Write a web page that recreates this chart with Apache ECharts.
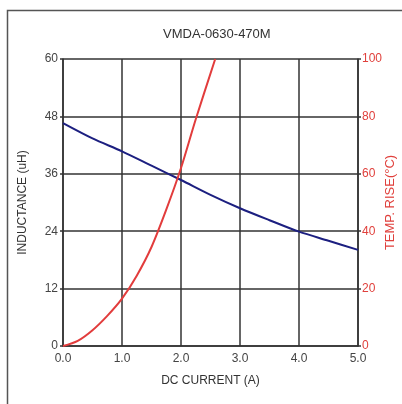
<!DOCTYPE html>
<html>
<head>
<meta charset="utf-8">
<script src="https://cdn.jsdelivr.net/npm/echarts@6/dist/echarts.min.js"></script>
<style>html,body{margin:0;padding:0;background:#fff}#c{width:402px;height:404px}</style>
</head>
<body>
<div id="c"></div>
<script>
var titleText = 'VMDA-0630-470M';
var inductanceX = [0, 0.5, 1, 1.5, 2, 2.5, 3, 3.5, 4, 4.5, 5];
var inductanceY = [46.6, 43.4, 40.7, 37.7, 34.7, 31.6, 28.8, 26.3, 23.9, 22.0, 20.1];
var tempX = [0, 0.25, 0.5, 0.75, 1.0, 1.25, 1.5, 1.75, 2.0, 2.25, 2.58];
var tempY = [0, 1.8, 5.5, 10.5, 16.5, 24.5, 34.5, 47.5, 62, 79, 100];

function pairs(xs, ys) { return xs.map(function (x, i) { return [x, ys[i]]; }); }

var font = 'Liberation Sans, Arial, sans-serif';
var chart = echarts.init(document.getElementById('c'), null, { renderer: 'canvas' });
chart.setOption({
  animation: false,
  backgroundColor: '#fff',
  title: {
    text: titleText, left: 158, top: 23,
    textStyle: { fontSize: 13, fontWeight: 'normal', color: '#333', fontFamily: font }
  },
  graphic: [{
    type: 'rect', shape: { x: 7.5, y: 10.5, width: 430, height: 430 },
    style: { fill: 'none', stroke: '#555', lineWidth: 1.5 }, silent: true
  }],
  grid: { left: 63, right: 44, top: 59, bottom: 58, containLabel: false, outerBoundsMode: 'none' },
  xAxis: {
    type: 'value', min: 0, max: 5, interval: 1,
    name: 'DC CURRENT (A)', nameLocation: 'middle', nameGap: 29,
    nameTextStyle: { fontSize: 12, color: '#333', fontFamily: font },
    axisLine: { show: true, lineStyle: { color: '#333', width: 1.5 } },
    axisTick: { show: false },
    axisLabel: { fontSize: 12, color: '#444', fontFamily: font, margin: 7,
      formatter: function (v) { return v.toFixed(1); } },
    splitLine: { show: true, lineStyle: { color: '#333', width: 1.5 } }
  },
  yAxis: [{
    type: 'value', min: 0, max: 60, interval: 12, position: 'left',
    name: 'INDUCTANCE (uH)', nameLocation: 'middle', nameGap: 34, nameRotate: 90,
    nameMoveOverlap: false,
    nameTextStyle: { fontSize: 12, color: '#333', fontFamily: font },
    axisLine: { show: true, lineStyle: { color: '#333', width: 1.5 } },
    axisTick: { show: true, length: 3, lineStyle: { color: '#333', width: 1.5 } },
    axisLabel: { fontSize: 12, color: '#444', fontFamily: font, margin: 5 },
    splitLine: { show: true, lineStyle: { color: '#333', width: 1.5 } }
  }, {
    type: 'value', min: 0, max: 100, interval: 20, position: 'right',
    name: 'TEMP. RISE(°C)', nameLocation: 'middle', nameGap: 26, nameRotate: 90,
    nameMoveOverlap: false,
    nameTextStyle: { fontSize: 13, color: '#e0403c', fontFamily: font },
    axisLine: { show: true, lineStyle: { color: '#333', width: 1.5 } },
    axisTick: { show: true, length: 3, lineStyle: { color: '#333', width: 1.5 } },
    axisLabel: { fontSize: 12, color: '#e0403c', fontFamily: font, margin: 4 },
    splitLine: { show: false }
  }],
  series: [{
    type: 'line', yAxisIndex: 0, data: pairs(inductanceX, inductanceY),
    smooth: 0.3, symbol: 'none', lineStyle: { color: '#1c1f80', width: 2 }
  }, {
    type: 'line', yAxisIndex: 1, data: pairs(tempX, tempY),
    smooth: 0.3, symbol: 'none', lineStyle: { color: '#e23c3c', width: 2 }
  }]
});
</script>
</body>
</html>
